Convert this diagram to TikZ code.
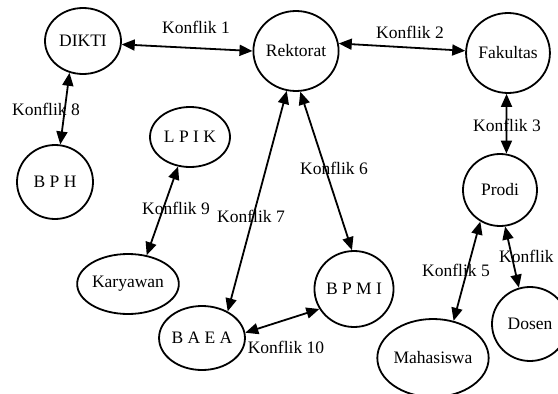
\documentclass[tikz,border=0pt]{standalone}
\usepackage{fontspec}
\setmainfont{Liberation Serif}
\usepackage{tikz}
\usetikzlibrary{arrows.meta,shapes.geometric}

\begin{document}
\begin{tikzpicture}[x=1pt,y=-1pt,
  every node/.style={font=\fontsize{17.5}{20}\selectfont},
  unit/.style={draw,ellipse,line width=1.8pt,inner sep=0pt},
  konflik/.style={line width=1.8pt,{Triangle[length=13pt,width=11pt]}-{Triangle[length=13pt,width=11pt]}}]
  \clip (0,0) rectangle (558,394);
  \node[unit,minimum width=76pt,minimum height=66pt] (dikti) at (83,41) {DIKTI};
  \node[unit,minimum width=82pt,minimum height=80pt] (rek) at (296,51) {Rektorat};
  \node[unit,minimum width=78pt,minimum height=80pt] (fak) at (508,53) {Fakultas};
  \node[unit,minimum width=74pt,minimum height=72pt] (prodi) at (500,190) {Prodi};
  \node[unit,minimum width=76pt,minimum height=74pt] (bph) at (55,182) {B P H};
  \node[unit,minimum width=80pt,minimum height=60pt] (lpik) at (190,137) {L P I K};
  \node[unit,minimum width=94pt,minimum height=60pt] (kary) at (128,284) {Karyawan};
  \node[unit,minimum width=78pt,minimum height=64pt] (baea) at (202,338) {B A E A};
  \node[unit,minimum width=78pt,minimum height=76pt] (bpmi) at (354,289) {B P M I};
  \node[unit,minimum width=104pt,minimum height=78pt] (mhs) at (433,358) {Mahasiswa};
  \node[unit,minimum width=76pt,minimum height=74pt] (dosen) at (530,324) {Dosen};

  \draw[konflik] (dikti.-5) -- (rek.180);
  \draw[konflik] (rek.10) -- (fak.177);
  \draw[konflik] (fak.-92) -- (prodi.80);
  \draw[konflik] (prodi.-82) -- (dosen.107);
  \draw[konflik] (prodi.-122) -- (mhs.61);
  \draw[konflik] (rek.-84) -- (bpmi.93);
  \draw[konflik] (rek.-103) -- (baea.46);
  \draw[konflik] (dikti.-113) -- (bph.82);
  \draw[konflik] (lpik.-112) -- (kary.57);
  \draw[konflik] (baea.7) -- (bpmi.-150);

  \node (k1) at (196,27) {Konflik 1};
  \node (k2) at (410,32) {Konflik 2};
  \node (k3) at (507,125) {Konflik 3};
  \node (k4) at (533,256) {Konflik 4};
  \node (k5) at (456,270) {Konflik 5};
  \node (k6) at (334,168) {Konflik 6};
  \node (k7) at (251,216) {Konflik 7};
  \node (k8) at (46,109) {Konflik 8};
  \node (k9) at (176,208) {Konflik 9};
  \node (k10) at (286,347) {Konflik 10};
\end{tikzpicture}
\end{document}
